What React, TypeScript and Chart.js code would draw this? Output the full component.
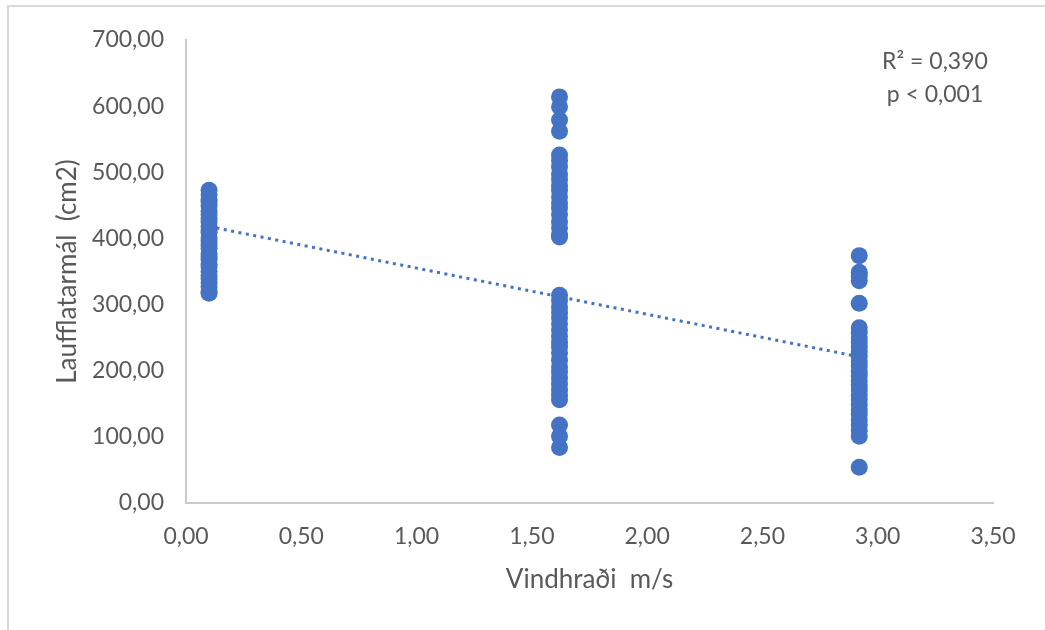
import React, { useEffect, useRef } from "react";
import { Chart, registerables } from "chart.js";

Chart.register(...registerables);

// Wind speed groups (m/s)
const windLow = 0.1;
const windMid = 1.62;
const windHigh = 2.92;

// Leaf area (cm2) read per wind group
const leafLow = [473, 466, 459, 455, 449, 441, 436, 430, 425, 418, 412, 409, 401, 396, 390, 385, 377, 372, 368, 361, 357, 350, 344, 339, 333, 327, 320, 317];
const leafMid = [614, 599, 579, 562, 526, 518, 508, 497, 489, 480, 473, 463, 454, 446, 436, 425, 416, 405, 402, 314, 306, 296, 288, 280, 271, 262, 252, 243, 236, 227, 216, 206, 198, 189, 180, 171, 163, 156, 118, 101, 84];
const leafHigh = [374, 349, 343, 336, 302, 265, 258, 250, 243, 236, 229, 222, 214, 207, 199, 192, 185, 178, 171, 163, 156, 149, 141, 134, 126, 118, 110, 101, 54];

// Linear trend line endpoints
const trendX = [0.1, 2.92];
const trendY = [418, 221];

const xTicks = [0, 0.5, 1, 1.5, 2, 2.5, 3, 3.5];
const yTicks = [0, 100, 200, 300, 400, 500, 600, 700];

const statLines = ["R² = 0,390", "p < 0,001"];

const BLUE = "#4472C4";
const TEXT = "#595959";
const FONT = "Lato, 'Open Sans', sans-serif";

const fmt = (v: number) => v.toFixed(2).replace(".", ",");

export default function App() {
  const ref = useRef<HTMLCanvasElement | null>(null);

  useEffect(() => {
    if (!ref.current) return;
    const points = [
      ...leafLow.map((y) => ({ x: windLow, y })),
      ...leafMid.map((y) => ({ x: windMid, y })),
      ...leafHigh.map((y) => ({ x: windHigh, y })),
    ];
    const trend = trendX.map((x, i) => ({ x, y: trendY[i] }));
    const chart = new Chart(ref.current, {
      type: "scatter",
      data: {
        datasets: [
          {
            label: "Laufflatarmál",
            data: points,
            backgroundColor: BLUE,
            borderColor: BLUE,
            pointRadius: 8.5,
            pointBorderWidth: 0,
            order: 1,
          },
          {
            label: "Trend",
            type: "line",
            data: trend,
            showLine: true,
            borderColor: BLUE,
            borderWidth: 3,
            borderDash: [3, 4.5],
            pointRadius: 0,
            fill: false,
            order: 2,
          } as any,
        ],
      },
      options: {
        responsive: false,
        maintainAspectRatio: false,
        animation: false,
        layout: { padding: { top: 40, right: 52, left: 0, bottom: 0 } },
        plugins: { legend: { display: false }, tooltip: { enabled: false } },
        scales: {
          x: {
            type: "linear",
            min: 0,
            max: 3.5,
            afterFit: (s: any) => {
              s.height = 127;
            },
            afterBuildTicks: (s: any) => {
              s.ticks = xTicks.map((v) => ({ value: v }));
            },
            grid: { display: false, drawTicks: false },
            border: { display: true, color: "#c9c9c9", width: 2 },
            ticks: {
              padding: 20,
              color: TEXT,
              font: { family: FONT, size: 23 },
              callback: (v: any) => fmt(Number(v)),
            },
            title: {
              display: true,
              text: "Vindhraði  m/s",
              color: TEXT,
              font: { family: FONT, size: 26 },
              padding: { top: 0, bottom: 35 },
            },
          },
          y: {
            type: "linear",
            min: 0,
            max: 700,
            afterFit: (s: any) => {
              s.width = 186;
            },
            afterBuildTicks: (s: any) => {
              s.ticks = yTicks.map((v) => ({ value: v }));
            },
            grid: { display: false, drawTicks: false },
            border: { display: true, color: "#c9c9c9", width: 2 },
            ticks: {
              padding: 22,
              color: TEXT,
              font: { family: FONT, size: 23 },
              callback: (v: any) => fmt(Number(v)),
            },
            title: {
              display: true,
              text: "Laufflatarmál  (cm2)",
              color: TEXT,
              font: { family: FONT, size: 26 },
              padding: { top: 52, bottom: 0 },
            },
          },
        },
      },
    });
    return () => chart.destroy();
  }, []);

  return (
    <div
      style={{
        position: "fixed",
        left: 0,
        top: 0,
        width: 1045,
        height: 630,
        background: "#fff",
        overflow: "hidden",
      }}
    >
      <canvas
        ref={ref}
        width={1045}
        height={630}
        style={{ position: "absolute", left: 0, top: 0, width: 1045, height: 630 }}
      />
      <div
        style={{
          position: "absolute",
          left: 7,
          top: 5,
          right: -5,
          bottom: -5,
          borderTop: "2px solid #d9d9d9",
          borderLeft: "2px solid #d9d9d9",
          pointerEvents: "none",
        }}
      />
      {statLines.map((t, i) => (
        <div
          key={t}
          style={{
            position: "absolute",
            left: 860,
            width: 150,
            top: 46 + i * 33,
            textAlign: "center",
            fontFamily: FONT,
            fontSize: 23,
            lineHeight: "28px",
            color: TEXT,
            whiteSpace: "pre",
          }}
        >
          {t}
        </div>
      ))}
    </div>
  );
}
